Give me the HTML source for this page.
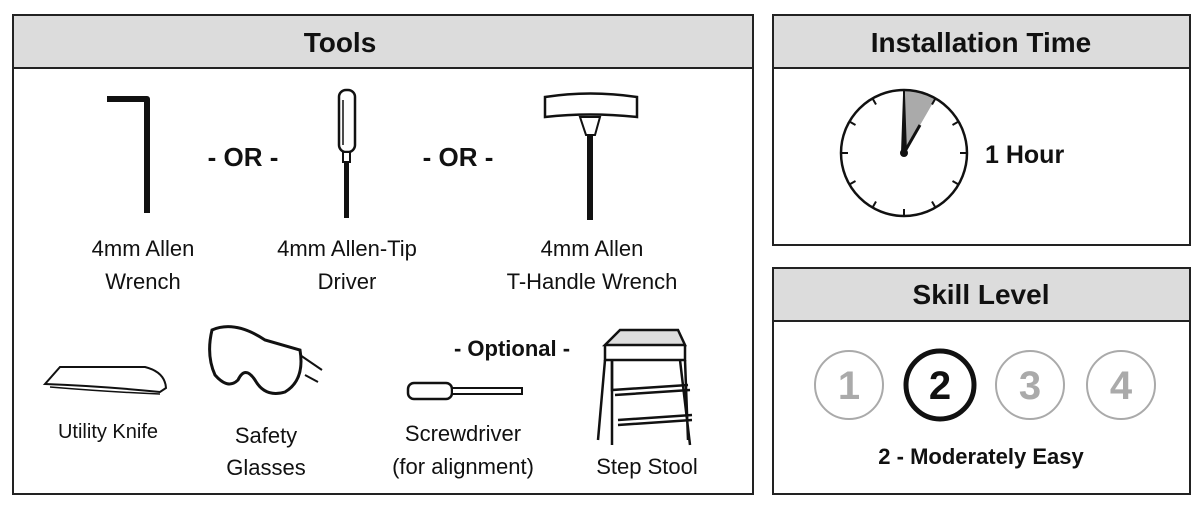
<!DOCTYPE html>
<html><head><style>body{margin:0;background:#fff}svg{display:block}text{font-family:"Liberation Sans",Arial,sans-serif}</style></head><body>
<svg width="1200" height="511" viewBox="0 0 1200 511" xmlns="http://www.w3.org/2000/svg">
<rect x="0" y="0" width="1200" height="511" fill="#fff"/>
<rect x="13" y="15" width="740" height="53" fill="#dcdcdc" stroke="#222" stroke-width="2"/>
<rect x="13" y="15" width="740" height="479" fill="none" stroke="#222" stroke-width="2"/>
<text x="340" y="52" font-size="28" font-weight="bold" text-anchor="middle" fill="#111">Tools</text>
<rect x="773" y="15" width="417" height="53" fill="#dcdcdc" stroke="#222" stroke-width="2"/>
<rect x="773" y="15" width="417" height="230" fill="none" stroke="#222" stroke-width="2"/>
<text x="981" y="52" font-size="28" font-weight="bold" text-anchor="middle" fill="#111">Installation Time</text>
<rect x="773" y="268" width="417" height="53" fill="#dcdcdc" stroke="#222" stroke-width="2"/>
<rect x="773" y="268" width="417" height="226" fill="none" stroke="#222" stroke-width="2"/>
<text x="981" y="304" font-size="28" font-weight="bold" text-anchor="middle" fill="#111">Skill Level</text>

<g transform="translate(904,153)">
<path d="M0,0 L0,-63 A63,63 0 0 1 31.5,-54.6 Z" fill="#aaa"/>
<circle r="63" fill="none" stroke="#111" stroke-width="2.5"/>
<g stroke="#111" stroke-width="2">
<line x1="0" y1="-63" x2="0" y2="-56"/><line x1="0" y1="63" x2="0" y2="56"/>
<line x1="-63" y1="0" x2="-56" y2="0"/><line x1="63" y1="0" x2="56" y2="0"/>
<line x1="31.5" y1="-54.6" x2="28" y2="-48.5"/><line x1="54.6" y1="-31.5" x2="48.5" y2="-28"/>
<line x1="54.6" y1="31.5" x2="48.5" y2="28"/><line x1="31.5" y1="54.6" x2="28" y2="48.5"/>
<line x1="-31.5" y1="54.6" x2="-28" y2="48.5"/><line x1="-54.6" y1="31.5" x2="-48.5" y2="28"/>
<line x1="-54.6" y1="-31.5" x2="-48.5" y2="-28"/><line x1="-31.5" y1="-54.6" x2="-28" y2="-48.5"/>
</g>
<path d="M-2,0 L0,-58 L2,0 Z" fill="#111" stroke="#111" stroke-width="2"/>
<line x1="0" y1="0" x2="16" y2="-28" stroke="#111" stroke-width="3"/>
<circle r="4" fill="#111"/>
</g>
<text x="985" y="163" font-size="25" font-weight="bold" fill="#111">1 Hour</text>

<g font-size="40" font-weight="bold" text-anchor="middle">
<circle cx="849" cy="385" r="34" fill="none" stroke="#aaa" stroke-width="2"/><text x="849" y="399" fill="#aaa">1</text>
<circle cx="940" cy="385" r="34" fill="none" stroke="#111" stroke-width="5"/><text x="940" y="399" fill="#111">2</text>
<circle cx="1030" cy="385" r="34" fill="none" stroke="#aaa" stroke-width="2"/><text x="1030" y="399" fill="#aaa">3</text>
<circle cx="1121" cy="385" r="34" fill="none" stroke="#aaa" stroke-width="2"/><text x="1121" y="399" fill="#aaa">4</text>
</g>
<text x="981" y="464" font-size="22" font-weight="bold" text-anchor="middle" fill="#111">2 - Moderately Easy</text>

<path d="M107,99 L147,99 L147,213" fill="none" stroke="#111" stroke-width="6" stroke-linejoin="round"/>
<text x="243" y="166" font-size="26" font-weight="bold" text-anchor="middle" fill="#111">- OR -</text>
<text x="458" y="166" font-size="26" font-weight="bold" text-anchor="middle" fill="#111">- OR -</text>
<rect x="339" y="90" width="16" height="62" rx="7" fill="#fff" stroke="#111" stroke-width="2.5"/>
<line x1="343" y1="100" x2="343" y2="145" stroke="#111" stroke-width="1.5"/>
<rect x="343" y="152" width="7" height="10" fill="#fff" stroke="#111" stroke-width="2"/>
<line x1="346.5" y1="162" x2="346.5" y2="218" stroke="#111" stroke-width="5"/>
<path d="M545,97 Q590,90 637,97 L637,117 Q590,112 545,117 Z" fill="#fff" stroke="#111" stroke-width="2.5"/>
<path d="M580,117 L600,117 L595,135 L586,135 Z" fill="#fff" stroke="#111" stroke-width="2"/>
<line x1="590" y1="135" x2="590" y2="220" stroke="#111" stroke-width="6"/>
<g font-size="22" fill="#111" text-anchor="middle">
<text x="143" y="256">4mm Allen</text><text x="143" y="289">Wrench</text>
<text x="347" y="256">4mm Allen-Tip</text><text x="347" y="289">Driver</text>
<text x="592" y="256">4mm Allen</text><text x="592" y="289">T-Handle Wrench</text>
<text x="108" y="438" font-size="20">Utility Knife</text>
<text x="266" y="443">Safety</text><text x="266" y="475">Glasses</text>
<text x="463" y="441">Screwdriver</text><text x="463" y="474">(for alignment)</text>
<text x="647" y="474">Step Stool</text>
<text x="512" y="356" font-weight="bold">- Optional -</text>
</g>
<path d="M45,384 L60,367 L145,367 Q165,372 166,388 L160,392 Q100,386 45,384 Z" fill="#fff" stroke="#111" stroke-width="2"/>
<path d="M50,387 Q110,392 160,394" fill="none" stroke="#111" stroke-width="1.5"/>
<path d="M212,330 Q235,320 265,340 L300,350 Q305,380 285,392 Q265,398 255,380 Q245,365 238,380 Q228,390 215,375 Q206,355 212,330 Z" fill="#fff" stroke="#111" stroke-width="3"/>
<path d="M300,355 L322,370 M305,375 L318,382" stroke="#111" stroke-width="2"/>
<rect x="408" y="383" width="44" height="16" rx="6" fill="#fff" stroke="#111" stroke-width="2.5"/>
<rect x="452" y="388" width="70" height="6" fill="#fff" stroke="#111" stroke-width="2"/>
<g fill="none" stroke="#111" stroke-width="2.5">
<path d="M605,345 L620,330 L678,330 L685,345 L605,345 Z" fill="#ddd"/>
<path d="M605,345 L605,360 L685,360 L685,345"/>
<path d="M612,360 L612,390 L688,385 M615,395 L690,390 M618,420 L692,415 M618,425 L692,420"/>
<path d="M605,360 L598,440 M612,360 L612,445 M685,360 L688,440 M680,360 L690,445"/>
</g>
</svg>
</body></html>
